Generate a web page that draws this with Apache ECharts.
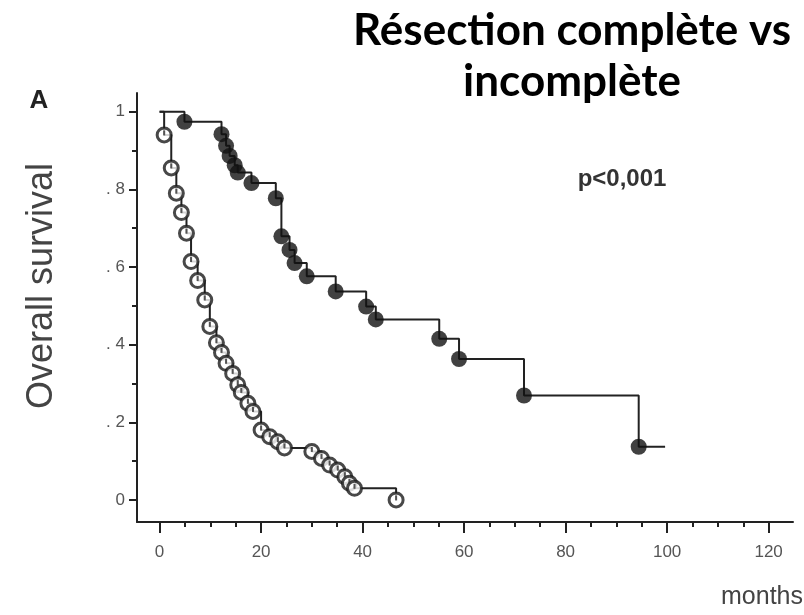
<!DOCTYPE html>
<html>
<head>
<meta charset="utf-8">
<script src="https://cdn.jsdelivr.net/npm/echarts@6/dist/echarts.min.js"></script>
<style>html,body{margin:0;padding:0;background:#fff}#c{width:804px;height:615px}</style>
</head>
<body>
<div id="c"></div>
<script>
// Complete resection (filled circles)
var completeTimes = [0, 4.9, 12.2, 13.1, 13.8, 14.8, 15.4, 18.1, 22.9, 24.0, 25.6, 26.6, 29.0, 34.7, 40.7, 42.6, 55.1, 59.0, 71.8, 94.4, 99.6];
var completeSurv  = [1, 0.974, 0.942, 0.912, 0.886, 0.862, 0.843, 0.816, 0.777, 0.679, 0.644, 0.610, 0.576, 0.537, 0.498, 0.465, 0.415, 0.363, 0.269, 0.137, 0.137];
// Incomplete resection (open circles)
var incompleteTimes = [0, 0.9, 2.3, 3.3, 4.3, 5.3, 6.2, 7.5, 8.9, 9.9, 11.2, 12.2, 13.1, 14.4, 15.4, 16.1, 17.4, 18.4, 20.0, 21.7, 23.3, 24.6, 30.0, 31.9, 33.5, 35.1, 36.5, 37.4, 38.4, 46.6];
var incompleteSurv  = [1, 0.94, 0.855, 0.79, 0.74, 0.687, 0.614, 0.565, 0.515, 0.447, 0.405, 0.38, 0.352, 0.326, 0.297, 0.277, 0.249, 0.228, 0.18, 0.163, 0.15, 0.134, 0.125, 0.107, 0.09, 0.077, 0.06, 0.043, 0.03, 0.0];

var xMajorTicks = [0, 20, 40, 60, 80, 100, 120];
var xMinorTicks = [5, 10, 15, 25, 30, 35, 45, 50, 55, 65, 70, 75, 85, 90, 95, 105, 110, 115];
var yMajorTicks = [0, 0.2, 0.4, 0.6, 0.8, 1];
var yMinorTicks = [0.1, 0.3, 0.5, 0.7, 0.9];

function pairs(t, s) { return t.map(function (v, i) { return [v, s[i]]; }); }
var completeLine = pairs(completeTimes, completeSurv);
var completeMarks = completeLine.slice(1, completeLine.length - 1);
var incompleteLine = pairs(incompleteTimes, incompleteSurv);
var incompleteMarks = incompleteLine.slice(1);

function yLabel(v) {
  if (v === 0) return '0';
  if (v === 1) return '1';
  return '. ' + Math.round(v * 10);
}

var chart = echarts.init(document.getElementById('c'), null, {renderer: 'canvas'});
var axisColor = '#222';
var labelColor = '#555';
chart.setOption({
  animation: false,
  backgroundColor: '#fff',
  grid: {left: 137, right: 11, top: 93, bottom: 93, containLabel: false},
  xAxis: [{
    type: 'value', min: -4.45, max: 124.8, position: 'bottom',
    axisLine: {show: true, onZero: false, lineStyle: {color: axisColor, width: 2}},
    axisTick: {show: true, customValues: xMajorTicks, length: 11, lineStyle: {color: axisColor, width: 2}},
    axisLabel: {show: true, customValues: xMajorTicks, color: labelColor, fontFamily: 'Liberation Sans', fontSize: 17, margin: 22},
    splitLine: {show: false}
  }, {
    type: 'value', min: -4.45, max: 124.8, position: 'bottom', offset: 0,
    axisLine: {show: false, onZero: false},
    axisTick: {show: true, customValues: xMinorTicks, length: 5, lineStyle: {color: axisColor, width: 2}},
    axisLabel: {show: false}, splitLine: {show: false}
  }],
  yAxis: [{
    type: 'value', min: -0.0567, max: 1.048, position: 'left',
    axisLine: {show: true, onZero: false, lineStyle: {color: axisColor, width: 2}},
    axisTick: {show: true, customValues: yMajorTicks, length: 8, lineStyle: {color: axisColor, width: 2}},
    axisLabel: {show: true, customValues: yMajorTicks, formatter: yLabel, color: labelColor, fontFamily: 'Liberation Sans', fontSize: 17, margin: 12},
    splitLine: {show: false}
  }, {
    type: 'value', min: -0.0567, max: 1.048, position: 'left', offset: 0,
    axisLine: {show: false, onZero: false},
    axisTick: {show: true, customValues: yMinorTicks, length: 5, lineStyle: {color: axisColor, width: 2}},
    axisLabel: {show: false}, splitLine: {show: false}
  }],
  graphic: [
    {type: 'text', x: 572, y: 31, style: {text: 'Résection complète vs', font: 'bold 44px Lato', fill: '#000', textAlign: 'center', textVerticalAlign: 'middle'}},
    {type: 'text', x: 572, y: 82, style: {text: 'incomplète', font: 'bold 44px Lato', fill: '#000', textAlign: 'center', textVerticalAlign: 'middle'}},
    {type: 'text', x: 39, y: 101, style: {text: 'A', font: 'bold 26px "Liberation Sans"', fill: '#222', textAlign: 'center', textVerticalAlign: 'middle'}},
    {type: 'text', x: 622, y: 179, style: {text: 'p<0,001', font: 'bold 24px "Liberation Sans"', fill: '#333', textAlign: 'center', textVerticalAlign: 'middle'}},
    {type: 'text', x: 762, y: 597, style: {text: 'months', font: '25px "Liberation Sans"', fill: '#444', textAlign: 'center', textVerticalAlign: 'middle'}},
    {type: 'text', x: 42, y: 286, rotation: Math.PI / 2, style: {text: 'Overall survival', font: '36px "Liberation Sans"', fill: '#444', textAlign: 'center', textVerticalAlign: 'middle'}}
  ],
  series: [
    {type: 'line', step: 'end', data: incompleteLine, showSymbol: false, symbol: 'none', lineStyle: {color: '#222', width: 2}, z: 2},
    {type: 'line', step: 'end', data: completeLine, showSymbol: false, symbol: 'none', lineStyle: {color: '#222', width: 2}, z: 2},
    {type: 'scatter', data: completeMarks, symbol: 'circle', symbolSize: 16, itemStyle: {color: '#111'}, z: 3},
    {type: 'scatter', data: incompleteMarks, symbol: 'circle', symbolSize: 14, itemStyle: {color: '#fff', borderColor: '#1a1a1a', borderWidth: 3}, z: 3},
    {type: 'scatter', data: incompleteMarks, symbol: 'rect', symbolSize: [2, 5], symbolOffset: [0, -2], itemStyle: {color: '#333'}, z: 4}
  ]
});
</script>
</body>
</html>
